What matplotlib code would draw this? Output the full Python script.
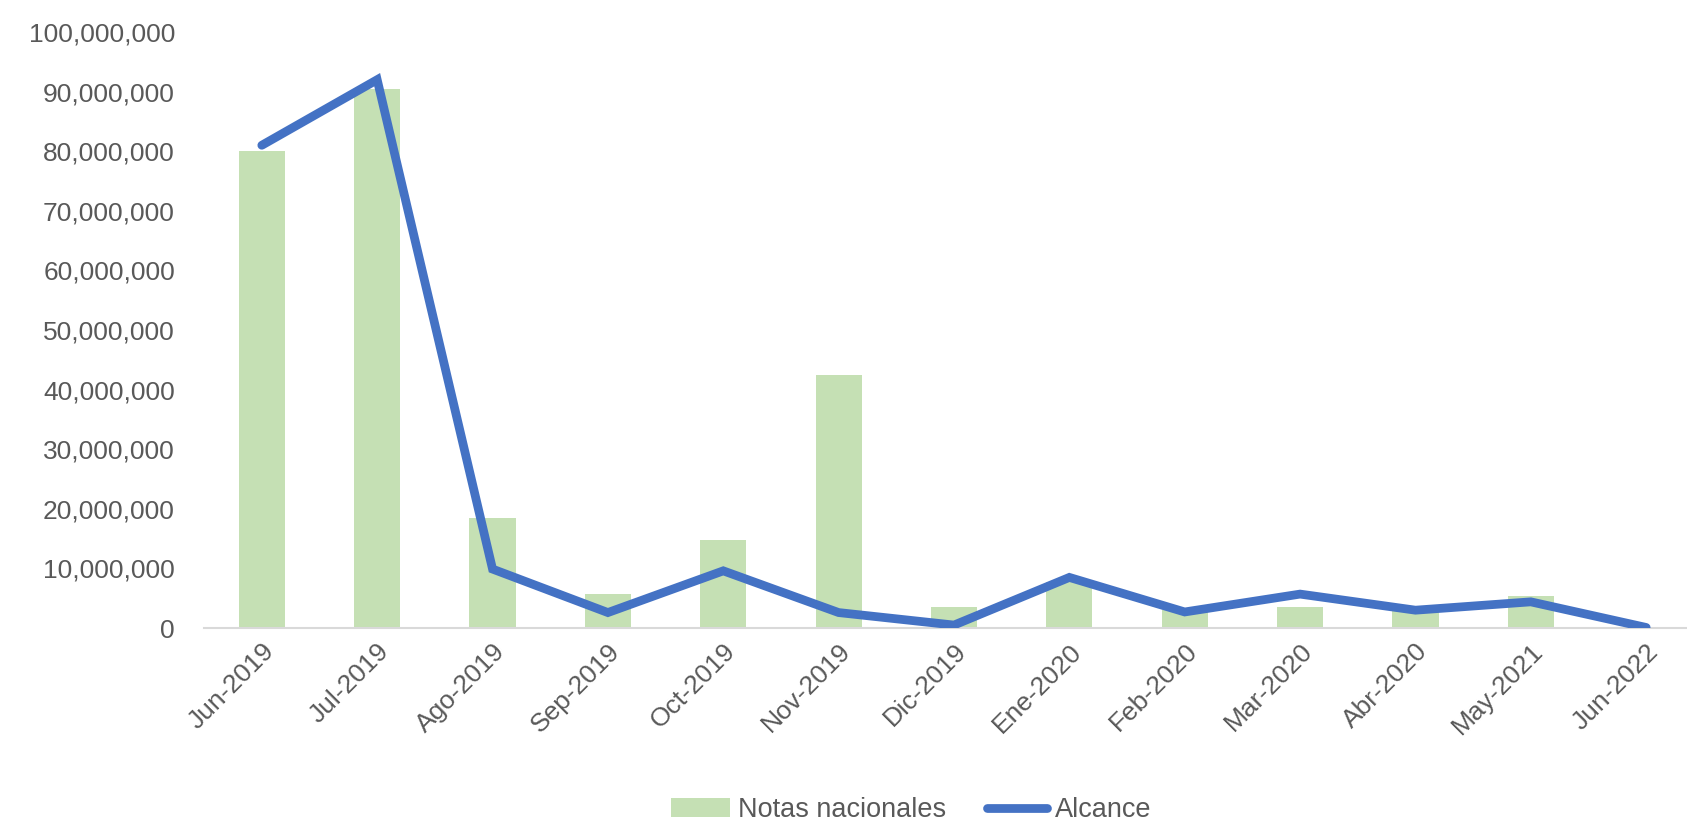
import matplotlib
matplotlib.use("Agg")
import matplotlib.pyplot as plt
from matplotlib.ticker import FuncFormatter, MultipleLocator

categories = ["Jun-2019", "Jul-2019", "Ago-2019", "Sep-2019", "Oct-2019", "Nov-2019",
              "Dic-2019", "Ene-2020", "Feb-2020", "Mar-2020", "Abr-2020", "May-2021", "Jun-2022"]
notas_nacionales = [80_100_000, 90_500_000, 18_500_000, 5_700_000, 14_800_000, 42_400_000,
                    3_600_000, 7_800_000, 3_000_000, 3_600_000, 3_000_000, 5_400_000, 0]
alcance = [81_000_000, 92_000_000, 9_900_000, 2_600_000, 9_600_000, 2_600_000,
           500_000, 8_500_000, 2_700_000, 5_700_000, 3_000_000, 4_400_000, 100_000]

plt.rcParams['font.family'] = ['Liberation Sans', 'DejaVu Sans']
fig = plt.figure(figsize=(16.87, 8.21), dpi=100)
ax = fig.add_axes([0.121, 0.235, 0.889, 0.726])

x = list(range(len(categories)))
bars = ax.bar(x, notas_nacionales, width=0.40, color="#C5E0B4", label="Notas nacionales", zorder=2)
line, = ax.plot(x, alcance, color="#4472C4", lw=6.3, solid_capstyle="round",
                solid_joinstyle="miter", label="Alcance", zorder=3)

ax.set_xlim(-0.5, len(categories) - 0.5)
ax.set_ylim(0, 100_000_000)
ax.yaxis.set_major_locator(MultipleLocator(10_000_000))
ax.yaxis.set_major_formatter(FuncFormatter(lambda v, p: f"{int(v):,}"))

for s in ["top", "right", "left"]:
    ax.spines[s].set_visible(False)
ax.spines["bottom"].set_color("#D9D9D9")
ax.spines["bottom"].set_linewidth(1.5)

ax.tick_params(axis="y", length=0, pad=21, labelsize=19, labelcolor="#595959")
ax.tick_params(axis="x", length=0, pad=8, labelsize=19, labelcolor="#595959")
ax.set_xticks(x)
ax.set_xticklabels(categories, rotation=45, ha="right", va="top", rotation_mode="anchor")

leg = fig.legend(handles=[bars, line], labels=["Notas nacionales", "Alcance"],
                 loc="center", bbox_to_anchor=(0.54, 0.013), ncol=2, frameon=False,
                 fontsize=19.5, labelcolor="#595959", handlelength=2.2, handletextpad=0.3,
                 columnspacing=1.5)

fig.savefig("out.png", dpi=100)
